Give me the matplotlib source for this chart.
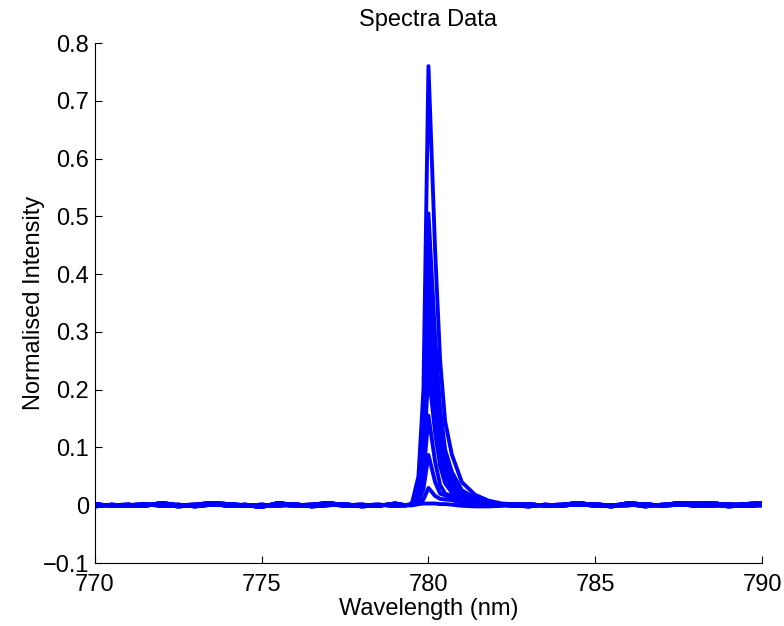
import numpy as np
import matplotlib.pyplot as plt

plt.rcParams['font.family'] = ['Liberation Sans', 'DejaVu Sans']

# wavelength grid (nm): flat part left, peak part, flat part right
wl_left = [770.0, 770.5, 771.0, 771.5, 772.0, 772.5, 773.0, 773.5, 774.0, 774.5,
           775.0, 775.5, 776.0, 776.5, 777.0, 777.5, 778.0, 778.5, 779.0]
wl_peak = [779.3, 779.5, 779.7, 779.85, 780.0, 780.2, 780.35, 780.5, 780.7,
           781.0, 781.4, 781.8, 782.2]
wl_right = [782.5, 783.0, 783.5, 784.0, 784.5, 785.0, 785.5, 786.0, 786.5, 787.0,
            787.5, 788.0, 788.5, 789.0, 789.5, 790.0]

# baseline wiggles (left 19 values + right 16 values)
base_a = [0.001, 0.0, 0.001, -0.001, 0.004, 0.0, 0.001, 0.004, 0.002, 0.0,
          -0.003, 0.004, 0.0, 0.001, 0.004, 0.0, 0.001, -0.001, 0.003,
          0.002, 0.001, 0.0, 0.001, 0.004, 0.0, -0.002, 0.004, 0.001, 0.0,
          0.004, 0.003, 0.004, 0.0, 0.002, 0.004]
base_b = [-0.002, 0.001, -0.001, 0.0, 0.001, -0.002, 0.0, 0.002, -0.001, 0.001,
          -0.002, 0.001, -0.001, 0.0, 0.002, -0.001, 0.0, 0.001, -0.001,
          0.0, -0.002, 0.001, -0.001, 0.002, -0.001, 0.0, 0.002, -0.002, 0.001,
          0.002, -0.001, 0.001, -0.002, 0.0, 0.001]
base_c = [0.002, -0.001, 0.0, 0.002, -0.001, 0.001, -0.002, 0.001, 0.0, -0.001,
          0.001, -0.001, 0.002, -0.002, 0.0, 0.002, -0.002, 0.0, 0.001,
          -0.001, 0.002, -0.001, 0.0, 0.001, 0.002, -0.001, 0.0, 0.002, -0.001,
          0.001, 0.0, -0.001, 0.002, -0.001, 0.0]

# peak region values for each spectrum
peaks = [
    [0.0, 0.002, 0.05, 0.2, 0.76, 0.44, 0.25, 0.145, 0.088, 0.04, 0.018, 0.008, 0.003],
    [0.0, 0.002, 0.035, 0.167, 0.505, 0.29, 0.167, 0.096, 0.058, 0.026, 0.012, 0.005, 0.002],
    [0.0, 0.001, 0.03, 0.14, 0.42, 0.244, 0.139, 0.08, 0.048, 0.022, 0.01, 0.004, 0.002],
    [0.0, 0.001, 0.028, 0.134, 0.405, 0.235, 0.134, 0.077, 0.047, 0.021, 0.009, 0.004, 0.002],
    [0.0, 0.001, 0.027, 0.127, 0.385, 0.223, 0.127, 0.073, 0.044, 0.02, 0.009, 0.004, 0.002],
    [0.0, 0.001, 0.025, 0.119, 0.36, 0.209, 0.119, 0.068, 0.041, 0.019, 0.008, 0.004, 0.001],
    [0.0, 0.001, 0.023, 0.107, 0.325, 0.189, 0.107, 0.062, 0.037, 0.017, 0.007, 0.003, 0.001],
    [0.0, 0.001, 0.019, 0.089, 0.27, 0.157, 0.089, 0.051, 0.031, 0.014, 0.006, 0.003, 0.001],
    [0.0, 0.001, 0.016, 0.077, 0.232, 0.125, 0.068, 0.038, 0.022, 0.01, 0.005, 0.002, 0.001],
    [0.0, 0.001, 0.01, 0.05, 0.155, 0.075, 0.035, 0.02, 0.016, 0.011, 0.005, 0.002, 0.001],
    [0.0, 0.0, 0.006, 0.028, 0.087, 0.04, 0.02, 0.017, 0.013, 0.003, 0.001, 0.0, 0.0],
    [0.0, 0.0, 0.002, 0.01, 0.03, 0.016, 0.011, 0.01, 0.009, 0.004, 0.001, 0.0, 0.0],
    [0.0, 0.001, 0.002, 0.003, 0.003, 0.003, 0.002, 0.002, 0.001, -0.001, -0.002, -0.002, -0.001],
]
bases = [base_a, base_b, base_c]

wl = np.array(wl_left + wl_peak + wl_right)
n_left = len(wl_left)

fig = plt.figure(figsize=(7.84, 6.26), dpi=100)
ax = fig.add_axes([0.121, 0.1006, 0.851, 0.8307])

for i, pk in enumerate(peaks):
    b = bases[i % 3]
    y = np.array(b[:n_left] + pk + b[n_left:])
    ax.plot(wl, y, color=(0, 0, 1), lw=2.8)

ax.set_xlim(770, 790)
ax.set_ylim(-0.1, 0.8)
ax.set_xticks([770, 775, 780, 785, 790])
ax.set_yticks(np.round(np.arange(-0.1, 0.81, 0.1), 1))
ax.set_yticklabels(['\u22120.1', '0', '0.1', '0.2', '0.3', '0.4', '0.5', '0.6', '0.7', '0.8'])
ax.spines['top'].set_visible(False)
ax.spines['right'].set_visible(False)
ax.tick_params(direction='in', length=5, labelsize=17)
ax.tick_params(axis='x', pad=8)
ax.tick_params(axis='y', pad=4)
ax.set_xlabel('Wavelength (nm)', fontsize=17, labelpad=1)
ax.set_ylabel('Normalised Intensity', fontsize=17, labelpad=-1.5)
ax.set_title('Spectra Data', fontsize=17, pad=12)

fig.savefig('out.png', dpi=100)
